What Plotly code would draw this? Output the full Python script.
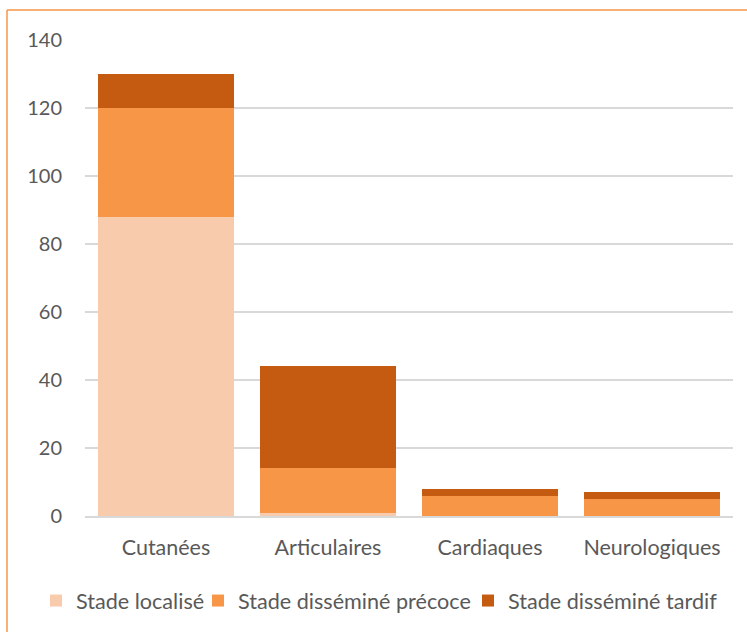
import plotly.graph_objects as go

categories = ["Cutanées", "Articulaires", "Cardiaques", "Neurologiques"]
stade_localise = [88, 1, 0, 0]
stade_precoce = [32, 13, 6, 5]
stade_tardif = [10, 30, 2, 2]
series_names = ["Stade localisé", "Stade disséminé précoce", "Stade disséminé tardif"]
colors = ["#F8CBAD", "#F79646", "#C55A11"]

W, H = 747, 632
ml, mr, mt, mb = 85, 14, 40, 116
pw, ph = W - ml - mr, H - mt - mb

legend_ids = ["legend", "legend2", "legend3"]
legend_text_x = [74, 236, 506]

fig = go.Figure()
for name, vals, c, lid in zip(series_names, [stade_localise, stade_precoce, stade_tardif], colors, legend_ids):
    fig.add_trace(go.Bar(x=categories, y=vals, name=name, legend=lid,
                         marker=dict(color=c, line=dict(width=0))))

font = "Lato, 'Open Sans', sans-serif"
legend_common = dict(orientation="h", xref="container", yref="container", xanchor="left",
                     y=(H - 601) / H, yanchor="middle",
                     font=dict(size=21.6, color="#595959"),
                     itemwidth=30, bgcolor="rgba(0,0,0,0)")
fig.update_layout(
    width=W, height=H,
    margin=dict(l=ml, r=mr, t=mt, b=mb, autoexpand=False),
    barmode="stack", bargap=0.16,
    plot_bgcolor="white", paper_bgcolor="white",
    font=dict(family=font, size=20, color="#595959"),
    showlegend=True,
    xaxis=dict(showgrid=False, showline=True, linecolor="#D9D9D9", linewidth=1.5,
               ticks="", tickfont=dict(size=21.5, color="#595959"), ticklabelstandoff=11),
    yaxis=dict(range=[0, 140], dtick=20, showgrid=True, gridcolor="#D9D9D9", gridwidth=1.5,
               zeroline=False, showline=False, ticks="", tickfont=dict(size=20, color="#595959"),
               ticklabelstandoff=22),
)
for lid, tx in zip(legend_ids, legend_text_x):
    fig.update_layout({lid: dict(legend_common, x=(tx - 38) / W)})

# outer orange border (chart area frame)
x0 = (7 - ml) / pw
y1 = (H - 10 - mb) / ph
fig.add_shape(type="line", xref="paper", yref="paper", x0=x0, x1=x0, y0=-mb / ph - 0.1, y1=y1,
              line=dict(color="#F79646", width=1.5))
fig.add_shape(type="line", xref="paper", yref="paper", x0=x0, x1=(W - ml) / pw + 0.1, y0=y1, y1=y1,
              line=dict(color="#F79646", width=1.5))

fig.write_html("out.html", config={"displayModeBar": False})
with open("out.html", "r", encoding="utf-8") as f:
    html = f.read()
html = html.replace("<head>", "<head><style>html,body{margin:0;padding:0;overflow:hidden}</style>", 1)
with open("out.html", "w", encoding="utf-8") as f:
    f.write(html)
